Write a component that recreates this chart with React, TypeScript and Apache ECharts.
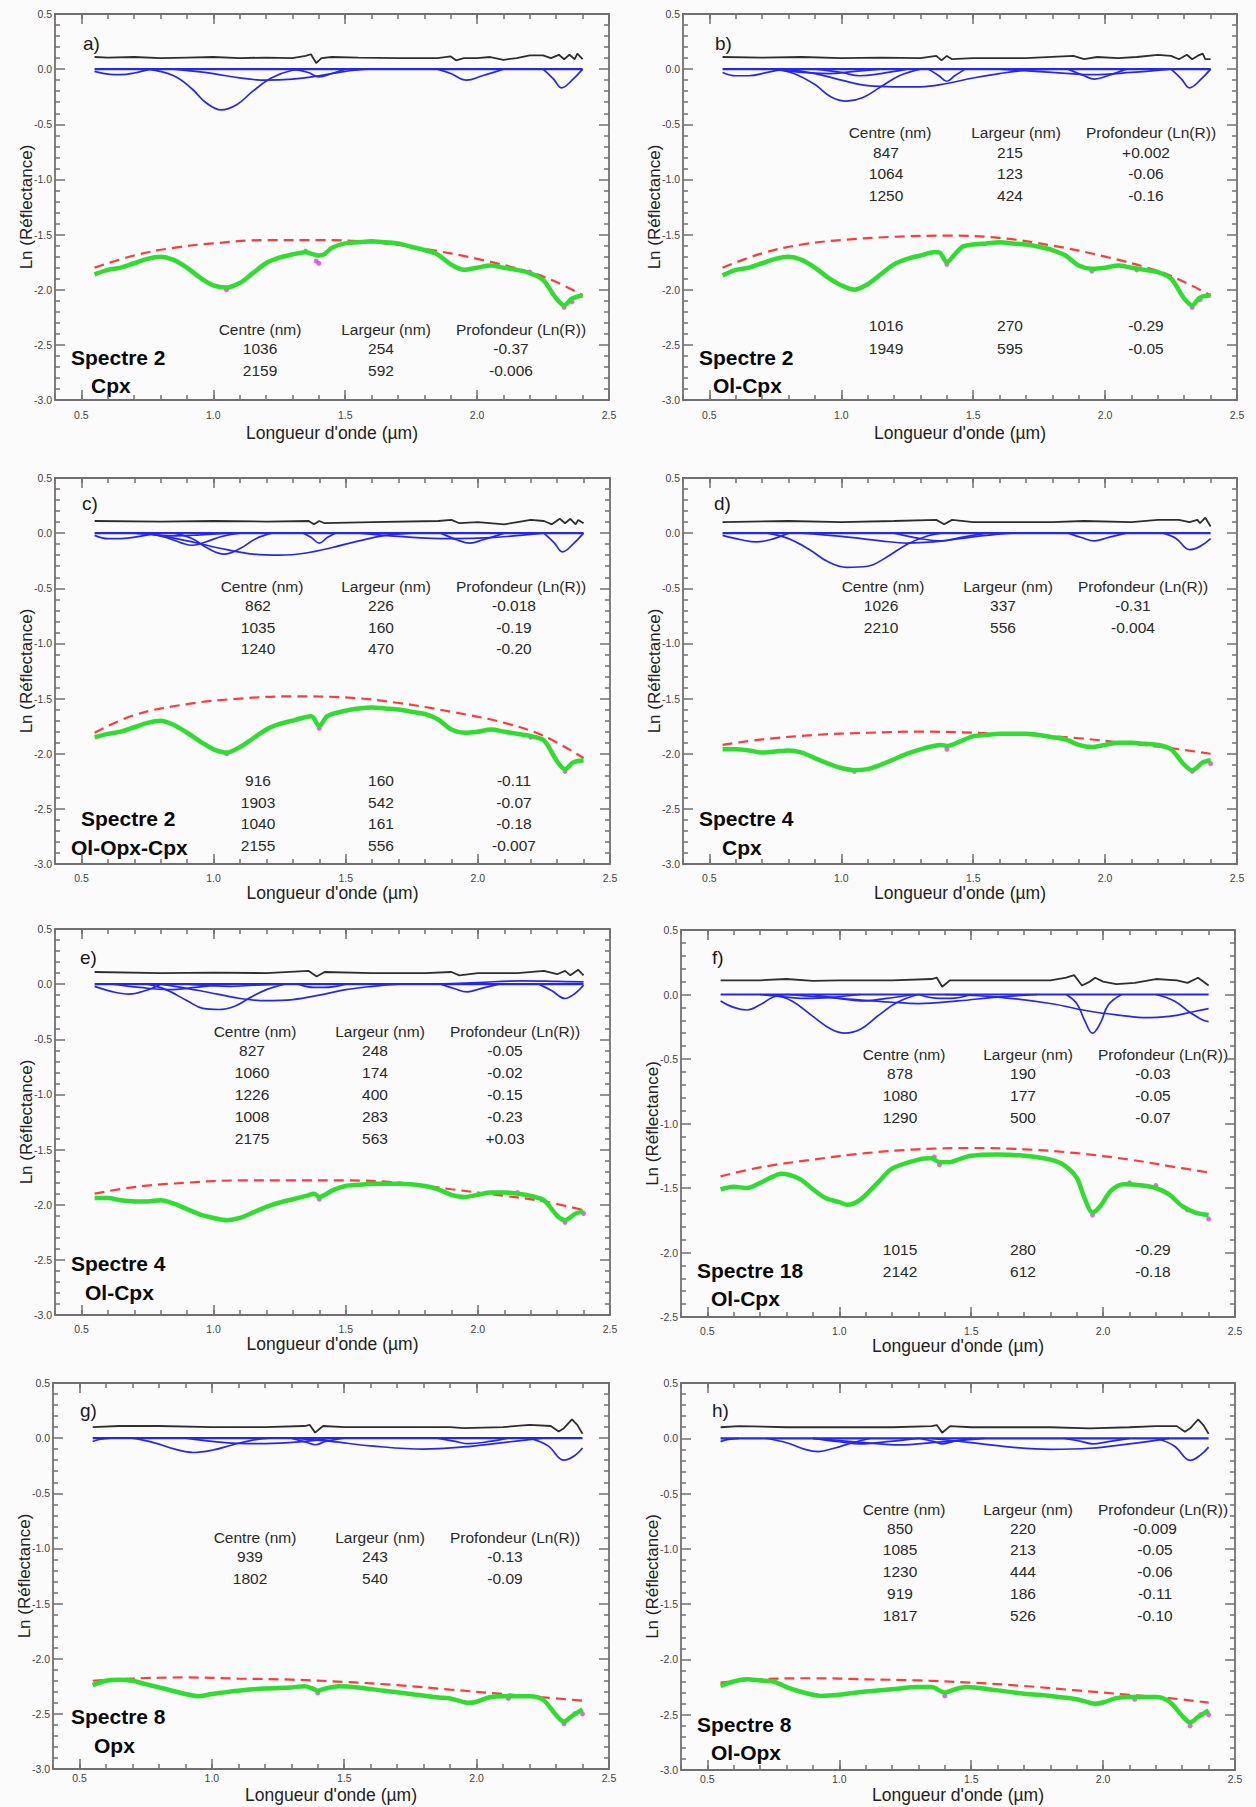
import React, { useEffect, useRef } from "react";
import * as echarts from "echarts";

type Pt = [number, number];

// ---------- axes ----------
const X_MIN = 0.4;
const X_MAX = 2.5;
const X_MAJOR = [0.5, 1.0, 1.5, 2.0, 2.5];
const X_TITLE = "Longueur d'onde (µm)";
const Y_TITLE = "Ln (Réflectance)";
const TABLE_HEAD = ["Centre (nm)", "Largeur (nm)", "Profondeur (Ln(R))"];

// ---------- panel a : Spectre 2 Cpx ----------
const blackA: Pt[] = [[0.55,0.11],[0.6,0.105],[0.7,0.11],[0.8,0.1],[0.9,0.105],[1.0,0.11],[1.1,0.1],[1.2,0.105],[1.3,0.1],[1.35,0.12],[1.37,0.135],[1.39,0.055],[1.41,0.1],[1.45,0.11],[1.55,0.105],[1.7,0.1],[1.85,0.1],[1.9,0.115],[1.92,0.08],[1.95,0.1],[2.0,0.1],[2.05,0.11],[2.1,0.085],[2.15,0.1],[2.2,0.125],[2.25,0.125],[2.28,0.1],[2.31,0.13],[2.33,0.09],[2.35,0.13],[2.37,0.09],[2.38,0.14],[2.4,0.09]];
const bandsA: Pt[][] = [
  [[0.55,-0.02],[0.6,-0.045],[0.65,-0.05],[0.7,-0.035],[0.76,0]],
  [[0.75,0],[0.85,-0.06],[0.92,-0.18],[0.97,-0.3],[1.03,-0.37],[1.09,-0.32],[1.15,-0.2],[1.22,-0.08],[1.3,-0.01],[1.35,0]],
  [[0.85,0],[1.0,-0.04],[1.1,-0.08],[1.2,-0.1],[1.3,-0.09],[1.4,-0.06],[1.5,-0.02],[1.58,0]],
  [[1.3,0],[1.36,-0.03],[1.4,-0.07],[1.45,-0.04],[1.5,0]],
  [[1.85,0],[1.9,-0.04],[1.96,-0.1],[2.02,-0.06],[2.1,0]],
  [[2.25,0],[2.29,-0.09],[2.32,-0.17],[2.36,-0.1],[2.4,0]],
];
const greenA: Pt[] = [[0.55,-1.86],[0.6,-1.82],[0.65,-1.8],[0.7,-1.76],[0.75,-1.72],[0.8,-1.7],[0.85,-1.73],[0.9,-1.8],[0.95,-1.89],[1.0,-1.96],[1.05,-1.98],[1.1,-1.94],[1.15,-1.85],[1.2,-1.76],[1.25,-1.71],[1.3,-1.68],[1.35,-1.66],[1.38,-1.68],[1.4,-1.69],[1.42,-1.68],[1.45,-1.62],[1.5,-1.58],[1.55,-1.57],[1.6,-1.56],[1.65,-1.57],[1.7,-1.58],[1.75,-1.61],[1.8,-1.64],[1.85,-1.68],[1.9,-1.77],[1.95,-1.82],[2.0,-1.8],[2.05,-1.78],[2.1,-1.8],[2.15,-1.82],[2.2,-1.85],[2.25,-1.91],[2.3,-2.08],[2.33,-2.14],[2.36,-2.08],[2.4,-2.05]];
const redA: Pt[] = [[0.55,-1.8],[0.7,-1.69],[0.85,-1.62],[1.0,-1.58],[1.2,-1.55],[1.4,-1.55],[1.6,-1.57],[1.8,-1.63],[2.0,-1.72],[2.2,-1.84],[2.3,-1.93],[2.4,-2.05]];
const magA: Pt[] = [[1.39,-1.74],[1.4,-1.76],[1.05,-2.0],[2.33,-2.16],[2.36,-2.11],[1.35,-1.65],[2.2,-1.84]];
const tableA1 = [["1036","254","-0.37"],["2159","592","-0.006"]];

// ---------- panel b : Spectre 2 Ol-Cpx ----------
const blackB: Pt[] = [[0.55,0.11],[0.7,0.105],[0.85,0.11],[1.0,0.1],[1.15,0.105],[1.3,0.1],[1.36,0.12],[1.38,0.08],[1.4,0.12],[1.42,0.09],[1.5,0.1],[1.7,0.1],[1.88,0.12],[1.92,0.09],[1.97,0.11],[2.05,0.1],[2.12,0.11],[2.2,0.13],[2.25,0.12],[2.28,0.09],[2.31,0.13],[2.33,0.09],[2.35,0.12],[2.37,0.14],[2.38,0.09],[2.4,0.09]];
const bandsB: Pt[][] = [
  [[0.55,-0.03],[0.6,-0.06],[0.65,-0.06],[0.72,-0.03],[0.78,0]],
  [[0.75,0],[0.82,-0.04],[0.9,-0.14],[0.96,-0.25],[1.02,-0.29],[1.08,-0.26],[1.15,-0.16],[1.22,-0.06],[1.3,0]],
  [[0.78,0],[0.9,-0.04],[1.0,-0.1],[1.1,-0.15],[1.2,-0.16],[1.3,-0.16],[1.4,-0.13],[1.5,-0.08],[1.6,-0.04],[1.7,-0.01],[1.8,0]],
  [[0.9,0],[1.0,-0.03],[1.07,-0.06],[1.15,-0.04],[1.25,0]],
  [[0.75,0],[0.85,-0.03],[0.95,-0.04],[1.05,-0.02],[1.15,0]],
  [[1.33,0],[1.37,-0.06],[1.4,-0.11],[1.43,-0.06],[1.47,0]],
  [[1.6,0],[1.8,-0.03],[1.95,-0.05],[2.1,-0.03],[2.25,0]],
  [[1.86,0],[1.92,-0.06],[1.96,-0.09],[2.01,-0.06],[2.08,0]],
  [[2.25,0],[2.29,-0.09],[2.32,-0.17],[2.36,-0.1],[2.4,0]],
];
const greenB: Pt[] = [[0.55,-1.87],[0.6,-1.82],[0.65,-1.8],[0.7,-1.76],[0.75,-1.72],[0.8,-1.7],[0.85,-1.73],[0.9,-1.8],[0.95,-1.89],[1.0,-1.96],[1.05,-2.0],[1.1,-1.95],[1.15,-1.86],[1.2,-1.77],[1.25,-1.72],[1.3,-1.69],[1.35,-1.66],[1.37,-1.66],[1.4,-1.75],[1.43,-1.68],[1.46,-1.61],[1.5,-1.59],[1.55,-1.58],[1.6,-1.57],[1.65,-1.58],[1.7,-1.59],[1.75,-1.61],[1.8,-1.64],[1.85,-1.69],[1.9,-1.78],[1.95,-1.81],[2.0,-1.8],[2.05,-1.78],[2.1,-1.8],[2.15,-1.82],[2.2,-1.84],[2.25,-1.9],[2.3,-2.08],[2.33,-2.14],[2.36,-2.07],[2.4,-2.05]];
const redB: Pt[] = [[0.55,-1.8],[0.7,-1.67],[0.85,-1.59],[1.0,-1.55],[1.2,-1.52],[1.4,-1.51],[1.6,-1.53],[1.8,-1.6],[2.0,-1.7],[2.2,-1.83],[2.3,-1.93],[2.4,-2.05]];
const magB: Pt[] = [[1.4,-1.77],[2.33,-2.16],[1.95,-1.83],[2.12,-1.82],[2.36,-2.09]];
const tableB1 = [["847","215","+0.002"],["1064","123","-0.06"],["1250","424","-0.16"]];
const tableB2 = [["1016","270","-0.29"],["1949","595","-0.05"]];

// ---------- panel c : Spectre 2 Ol-Opx-Cpx ----------
const blackC: Pt[] = [[0.55,0.11],[0.8,0.105],[1.0,0.11],[1.2,0.105],[1.36,0.11],[1.38,0.08],[1.4,0.11],[1.42,0.09],[1.6,0.1],[1.85,0.11],[1.9,0.12],[1.93,0.09],[2.0,0.1],[2.1,0.08],[2.15,0.1],[2.2,0.12],[2.25,0.11],[2.28,0.08],[2.31,0.13],[2.33,0.09],[2.35,0.13],[2.37,0.08],[2.38,0.12],[2.4,0.09]];
const bandsC: Pt[][] = [
  [[0.55,-0.02],[0.6,-0.05],[0.65,-0.05],[0.72,-0.03],[0.78,0]],
  [[0.7,0],[0.8,-0.02],[0.86,-0.025],[0.95,-0.015],[1.05,0]],
  [[0.75,0],[0.82,-0.04],[0.88,-0.09],[0.92,-0.11],[0.97,-0.08],[1.03,-0.03],[1.1,0]],
  [[0.85,0],[0.92,-0.05],[0.98,-0.14],[1.04,-0.19],[1.1,-0.14],[1.16,-0.05],[1.22,0]],
  [[0.75,0],[0.9,-0.07],[1.05,-0.15],[1.15,-0.19],[1.25,-0.2],[1.35,-0.18],[1.45,-0.13],[1.55,-0.07],[1.65,-0.02],[1.75,0]],
  [[1.34,0],[1.37,-0.04],[1.4,-0.09],[1.43,-0.04],[1.46,0]],
  [[1.55,0],[1.7,-0.03],[1.9,-0.05],[2.05,-0.04],[2.25,0]],
  [[1.86,0],[1.92,-0.06],[1.97,-0.09],[2.02,-0.06],[2.1,0]],
  [[2.25,0],[2.29,-0.09],[2.32,-0.17],[2.36,-0.1],[2.4,0]],
];
const greenC: Pt[] = [[0.55,-1.85],[0.6,-1.82],[0.65,-1.8],[0.7,-1.76],[0.75,-1.72],[0.8,-1.7],[0.85,-1.74],[0.9,-1.81],[0.95,-1.89],[1.0,-1.96],[1.05,-1.99],[1.1,-1.94],[1.15,-1.86],[1.2,-1.78],[1.25,-1.73],[1.3,-1.7],[1.37,-1.66],[1.4,-1.75],[1.43,-1.66],[1.5,-1.61],[1.55,-1.59],[1.6,-1.58],[1.65,-1.59],[1.7,-1.6],[1.75,-1.62],[1.8,-1.64],[1.85,-1.69],[1.9,-1.78],[1.95,-1.81],[2.0,-1.8],[2.05,-1.78],[2.1,-1.8],[2.15,-1.82],[2.2,-1.84],[2.25,-1.88],[2.3,-2.07],[2.33,-2.14],[2.36,-2.08],[2.4,-2.06]];
const redC: Pt[] = [[0.55,-1.81],[0.7,-1.65],[0.9,-1.55],[1.1,-1.5],[1.3,-1.48],[1.5,-1.49],[1.7,-1.54],[1.9,-1.62],[2.1,-1.72],[2.25,-1.84],[2.4,-2.04]];
const magC: Pt[] = [[1.4,-1.77],[2.33,-2.16],[2.2,-1.85],[1.05,-2.0]];
const tableC1 = [["862","226","-0.018"],["1035","160","-0.19"],["1240","470","-0.20"]];
const tableC2 = [["916","160","-0.11"],["1903","542","-0.07"],["1040","161","-0.18"],["2155","556","-0.007"]];

// ---------- panel d : Spectre 4 Cpx ----------
const blackD: Pt[] = [[0.55,0.1],[0.8,0.11],[1.0,0.1],[1.2,0.11],[1.36,0.12],[1.39,0.08],[1.42,0.12],[1.5,0.1],[1.8,0.1],[1.92,0.11],[2.1,0.1],[2.2,0.12],[2.28,0.12],[2.32,0.1],[2.35,0.12],[2.36,0.09],[2.38,0.14],[2.4,0.06]];
const bandsD: Pt[][] = [
  [[0.55,-0.02],[0.62,-0.06],[0.68,-0.08],[0.73,-0.06],[0.8,0]],
  [[0.72,0],[0.8,-0.05],[0.88,-0.15],[0.95,-0.26],[1.02,-0.31],[1.1,-0.3],[1.17,-0.22],[1.25,-0.1],[1.32,-0.03],[1.38,0]],
  [[0.85,0],[1.0,-0.03],[1.15,-0.07],[1.25,-0.09],[1.35,-0.08],[1.45,-0.05],[1.55,-0.02],[1.65,0]],
  [[1.2,0],[1.3,-0.05],[1.38,-0.07],[1.45,-0.04],[1.55,0]],
  [[1.86,0],[1.91,-0.04],[1.96,-0.07],[2.01,-0.04],[2.08,0]],
  [[2.22,0],[2.27,-0.05],[2.32,-0.15],[2.36,-0.12],[2.4,-0.05]],
];
const greenD: Pt[] = [[0.55,-1.96],[0.6,-1.96],[0.65,-1.97],[0.7,-1.99],[0.75,-1.98],[0.8,-1.97],[0.85,-1.99],[0.9,-2.04],[0.95,-2.09],[1.0,-2.13],[1.05,-2.15],[1.1,-2.14],[1.15,-2.1],[1.2,-2.05],[1.25,-2.0],[1.3,-1.96],[1.35,-1.93],[1.38,-1.92],[1.4,-1.93],[1.45,-1.89],[1.5,-1.84],[1.55,-1.83],[1.6,-1.82],[1.7,-1.82],[1.8,-1.85],[1.85,-1.87],[1.9,-1.92],[1.95,-1.94],[2.0,-1.92],[2.05,-1.9],[2.1,-1.9],[2.15,-1.91],[2.2,-1.92],[2.25,-1.96],[2.3,-2.1],[2.33,-2.15],[2.37,-2.08],[2.4,-2.06]];
const redD: Pt[] = [[0.55,-1.92],[0.7,-1.87],[0.9,-1.83],[1.1,-1.81],[1.3,-1.8],[1.5,-1.81],[1.7,-1.83],[1.9,-1.86],[2.1,-1.91],[2.25,-1.95],[2.4,-2.0]];
const magD: Pt[] = [[1.4,-1.96],[2.33,-2.16],[2.4,-2.09],[1.05,-2.16]];
const tableD1 = [["1026","337","-0.31"],["2210","556","-0.004"]];

// ---------- panel e : Spectre 4 Ol-Cpx ----------
const blackE: Pt[] = [[0.55,0.11],[0.8,0.1],[1.0,0.105],[1.2,0.1],[1.36,0.12],[1.39,0.07],[1.42,0.11],[1.6,0.1],[1.8,0.1],[1.9,0.11],[1.93,0.08],[2.0,0.1],[2.15,0.1],[2.25,0.12],[2.3,0.09],[2.33,0.12],[2.35,0.08],[2.38,0.13],[2.4,0.08]];
const bandsE: Pt[][] = [
  [[0.55,-0.02],[0.62,-0.07],[0.68,-0.09],[0.74,-0.06],[0.8,0]],
  [[0.62,0],[0.72,-0.03],[0.83,-0.05],[0.93,-0.03],[1.03,0]],
  [[0.75,0],[0.82,-0.05],[0.9,-0.15],[0.96,-0.22],[1.02,-0.23],[1.08,-0.2],[1.14,-0.12],[1.2,-0.05],[1.27,0]],
  [[0.8,0],[0.95,-0.06],[1.1,-0.13],[1.2,-0.15],[1.3,-0.14],[1.4,-0.1],[1.5,-0.05],[1.6,-0.02],[1.7,0]],
  [[0.9,0],[1.0,-0.015],[1.06,-0.02],[1.15,-0.01],[1.25,0]],
  [[1.32,0],[1.38,-0.03],[1.42,-0.03],[1.5,0]],
  [[1.86,0],[1.91,-0.04],[1.96,-0.07],[2.01,-0.04],[2.08,0]],
  [[1.85,0],[2.0,0.015],[2.17,0.03],[2.3,0.025],[2.4,0.02]],
  [[2.23,0],[2.28,-0.06],[2.33,-0.13],[2.37,-0.08],[2.4,-0.01]],
];
const greenE: Pt[] = [[0.55,-1.94],[0.6,-1.94],[0.65,-1.96],[0.7,-1.97],[0.75,-1.97],[0.8,-1.96],[0.85,-1.99],[0.9,-2.04],[0.95,-2.09],[1.0,-2.12],[1.05,-2.14],[1.1,-2.12],[1.15,-2.07],[1.2,-2.02],[1.25,-1.98],[1.3,-1.95],[1.35,-1.92],[1.38,-1.9],[1.4,-1.93],[1.45,-1.87],[1.5,-1.83],[1.55,-1.82],[1.6,-1.81],[1.7,-1.81],[1.8,-1.83],[1.85,-1.86],[1.9,-1.91],[1.95,-1.93],[2.0,-1.91],[2.05,-1.89],[2.1,-1.89],[2.15,-1.9],[2.2,-1.92],[2.25,-1.96],[2.3,-2.1],[2.33,-2.14],[2.37,-2.08],[2.4,-2.06]];
const redE: Pt[] = [[0.55,-1.9],[0.7,-1.84],[0.9,-1.8],[1.1,-1.78],[1.3,-1.78],[1.5,-1.78],[1.7,-1.8],[1.9,-1.86],[2.1,-1.92],[2.25,-1.97],[2.4,-2.05]];
const magE: Pt[] = [[1.4,-1.95],[2.33,-2.16],[2.4,-2.08],[2.15,-1.89]];
const tableE1 = [["827","248","-0.05"],["1060","174","-0.02"],["1226","400","-0.15"],["1008","283","-0.23"],["2175","563","+0.03"]];

// ---------- panel f : Spectre 18 Ol-Cpx ----------
const blackF: Pt[] = [[0.55,0.11],[0.7,0.11],[0.8,0.12],[0.9,0.105],[1.0,0.11],[1.2,0.11],[1.35,0.12],[1.37,0.13],[1.39,0.06],[1.42,0.11],[1.6,0.11],[1.8,0.11],[1.86,0.13],[1.89,0.15],[1.92,0.07],[1.95,0.1],[1.97,0.13],[2.0,0.1],[2.05,0.08],[2.12,0.09],[2.2,0.12],[2.28,0.11],[2.32,0.09],[2.36,0.13],[2.4,0.07]];
const bandsF: Pt[][] = [
  [[0.55,-0.05],[0.6,-0.1],[0.65,-0.12],[0.7,-0.08],[0.75,-0.02],[0.8,0]],
  [[0.7,0],[0.8,-0.02],[0.88,-0.03],[0.98,-0.02],[1.08,0]],
  [[0.75,0],[0.82,-0.05],[0.9,-0.17],[0.97,-0.27],[1.02,-0.3],[1.08,-0.27],[1.15,-0.16],[1.22,-0.06],[1.3,0]],
  [[0.9,0],[1.0,-0.03],[1.08,-0.05],[1.18,-0.03],[1.28,0]],
  [[0.8,0],[1.0,-0.03],[1.2,-0.06],[1.3,-0.07],[1.45,-0.05],[1.6,-0.02],[1.75,0]],
  [[1.3,0],[1.38,-0.03],[1.42,-0.03],[1.5,0]],
  [[1.86,0],[1.9,-0.07],[1.93,-0.2],[1.96,-0.3],[1.99,-0.22],[2.02,-0.08],[2.07,0]],
  [[1.4,0],[1.6,-0.02],[1.8,-0.07],[1.95,-0.13],[2.1,-0.17],[2.15,-0.18],[2.25,-0.17],[2.35,-0.13],[2.4,-0.11]],
  [[2.2,0],[2.27,-0.05],[2.33,-0.14],[2.38,-0.2],[2.4,-0.21]],
];
const greenF: Pt[] = [[0.55,-1.51],[0.6,-1.49],[0.65,-1.5],[0.7,-1.46],[0.75,-1.41],[0.78,-1.39],[0.85,-1.43],[0.9,-1.51],[0.95,-1.58],[1.0,-1.61],[1.03,-1.63],[1.08,-1.59],[1.15,-1.45],[1.2,-1.35],[1.3,-1.28],[1.35,-1.27],[1.38,-1.3],[1.42,-1.3],[1.45,-1.28],[1.5,-1.25],[1.6,-1.24],[1.7,-1.25],[1.8,-1.28],[1.85,-1.32],[1.9,-1.42],[1.93,-1.58],[1.96,-1.69],[1.99,-1.64],[2.03,-1.52],[2.08,-1.47],[2.15,-1.48],[2.2,-1.5],[2.25,-1.55],[2.3,-1.64],[2.35,-1.69],[2.4,-1.71]];
const redF: Pt[] = [[0.55,-1.41],[0.7,-1.34],[0.9,-1.28],[1.1,-1.23],[1.3,-1.2],[1.5,-1.19],[1.7,-1.2],[1.9,-1.23],[2.1,-1.28],[2.25,-1.33],[2.4,-1.38]];
const magF: Pt[] = [[1.38,-1.32],[1.36,-1.26],[1.96,-1.71],[2.1,-1.46],[2.2,-1.48],[2.4,-1.74],[2.32,-1.67]];
const tableF1 = [["878","190","-0.03"],["1080","177","-0.05"],["1290","500","-0.07"]];
const tableF2 = [["1015","280","-0.29"],["2142","612","-0.18"]];

// ---------- panel g : Spectre 8 Opx ----------
const blackG: Pt[] = [[0.55,0.1],[0.65,0.11],[0.8,0.11],[1.0,0.1],[1.2,0.1],[1.35,0.11],[1.37,0.12],[1.39,0.05],[1.42,0.11],[1.5,0.1],[1.8,0.1],[1.9,0.1],[1.95,0.09],[2.1,0.1],[2.2,0.12],[2.28,0.11],[2.31,0.06],[2.33,0.09],[2.36,0.17],[2.38,0.12],[2.4,0.04]];
const bandsG: Pt[][] = [
  [[0.55,-0.03],[0.58,-0.01],[0.62,0]],
  [[0.7,0],[0.78,-0.04],[0.86,-0.1],[0.93,-0.13],[1.0,-0.11],[1.08,-0.06],[1.15,-0.02],[1.22,0]],
  [[0.9,0],[1.05,-0.04],[1.2,-0.05],[1.35,-0.03],[1.45,0]],
  [[1.3,0],[1.36,-0.04],[1.39,-0.06],[1.43,-0.03],[1.5,0]],
  [[1.3,0],[1.45,-0.03],[1.6,-0.07],[1.8,-0.1],[1.95,-0.08],[2.1,-0.04],[2.25,0]],
  [[1.85,0],[1.92,-0.03],[1.97,-0.05],[2.05,-0.03],[2.12,0]],
  [[2.2,0],[2.27,-0.07],[2.33,-0.2],[2.37,-0.16],[2.4,-0.09]],
];
const greenG: Pt[] = [[0.55,-2.24],[0.6,-2.2],[0.65,-2.19],[0.7,-2.2],[0.75,-2.23],[0.8,-2.26],[0.85,-2.29],[0.9,-2.32],[0.95,-2.34],[1.0,-2.32],[1.1,-2.29],[1.2,-2.27],[1.3,-2.26],[1.35,-2.25],[1.38,-2.27],[1.4,-2.29],[1.43,-2.27],[1.48,-2.25],[1.55,-2.26],[1.65,-2.29],[1.75,-2.32],[1.85,-2.35],[1.9,-2.36],[1.97,-2.4],[2.0,-2.39],[2.05,-2.35],[2.1,-2.34],[2.2,-2.34],[2.25,-2.37],[2.3,-2.51],[2.33,-2.57],[2.36,-2.52],[2.4,-2.46]];
const redG: Pt[] = [[0.55,-2.2],[0.7,-2.18],[0.9,-2.17],[1.1,-2.18],[1.3,-2.19],[1.5,-2.21],[1.7,-2.24],[1.9,-2.28],[2.1,-2.32],[2.25,-2.35],[2.4,-2.38]];
const magG: Pt[] = [[1.4,-2.31],[2.33,-2.59],[2.37,-2.5],[2.4,-2.5],[2.12,-2.36]];
const tableG1 = [["939","243","-0.13"],["1802","540","-0.09"]];

// ---------- panel h : Spectre 8 Ol-Opx ----------
const blackH: Pt[] = [[0.55,0.1],[0.62,0.11],[0.8,0.1],[1.0,0.1],[1.2,0.1],[1.35,0.11],[1.37,0.12],[1.39,0.05],[1.42,0.11],[1.5,0.1],[1.8,0.1],[1.95,0.09],[2.1,0.1],[2.2,0.11],[2.28,0.11],[2.31,0.06],[2.33,0.09],[2.36,0.17],[2.38,0.12],[2.4,0.04]];
const bandsH: Pt[][] = [
  [[0.55,-0.03],[0.58,-0.01],[0.62,0]],
  [[0.72,0],[0.8,-0.04],[0.87,-0.1],[0.92,-0.12],[0.98,-0.09],[1.05,-0.04],[1.12,0]],
  [[0.9,0],[1.0,-0.03],[1.08,-0.05],[1.18,-0.03],[1.3,0]],
  [[0.9,0],[1.1,-0.04],[1.23,-0.06],[1.35,-0.04],[1.55,0]],
  [[1.3,0],[1.36,-0.03],[1.39,-0.05],[1.43,-0.03],[1.5,0]],
  [[1.35,0],[1.5,-0.04],[1.65,-0.08],[1.8,-0.1],[1.95,-0.09],[2.1,-0.05],[2.25,0]],
  [[1.85,0],[1.92,-0.03],[1.96,-0.05],[2.02,-0.03],[2.1,0]],
  [[2.2,0],[2.27,-0.07],[2.33,-0.2],[2.37,-0.15],[2.4,-0.08]],
];
const greenH: Pt[] = [[0.55,-2.24],[0.6,-2.2],[0.65,-2.18],[0.7,-2.19],[0.75,-2.2],[0.8,-2.25],[0.85,-2.29],[0.9,-2.32],[0.93,-2.33],[1.0,-2.32],[1.1,-2.29],[1.2,-2.27],[1.3,-2.25],[1.35,-2.25],[1.4,-2.3],[1.44,-2.27],[1.48,-2.25],[1.6,-2.28],[1.7,-2.31],[1.8,-2.33],[1.9,-2.36],[1.97,-2.4],[2.0,-2.39],[2.05,-2.35],[2.1,-2.34],[2.2,-2.34],[2.25,-2.38],[2.3,-2.51],[2.33,-2.57],[2.36,-2.52],[2.4,-2.46]];
const redH: Pt[] = [[0.55,-2.21],[0.7,-2.18],[0.9,-2.17],[1.1,-2.18],[1.3,-2.19],[1.5,-2.21],[1.7,-2.24],[1.9,-2.28],[2.1,-2.32],[2.25,-2.35],[2.4,-2.39]];
const magH: Pt[] = [[1.4,-2.33],[2.33,-2.6],[2.37,-2.5],[2.4,-2.5],[2.12,-2.36]];
const tableH1 = [["850","220","-0.009"],["1085","213","-0.05"],["1230","444","-0.06"],["919","186","-0.11"],["1817","526","-0.10"]];

// ---------- panel assembly ----------
const PANELS = [
  { letter: "a)", yMin: -3, black: blackA, bands: bandsA, green: greenA, red: redA, mag: magA, tables: [tableA1], names: ["Spectre 2", "Cpx"] },
  { letter: "b)", yMin: -3, black: blackB, bands: bandsB, green: greenB, red: redB, mag: magB, tables: [tableB1, tableB2], names: ["Spectre 2", "Ol-Cpx"] },
  { letter: "c)", yMin: -3, black: blackC, bands: bandsC, green: greenC, red: redC, mag: magC, tables: [tableC1, tableC2], names: ["Spectre 2", "Ol-Opx-Cpx"] },
  { letter: "d)", yMin: -3, black: blackD, bands: bandsD, green: greenD, red: redD, mag: magD, tables: [tableD1], names: ["Spectre 4", "Cpx"] },
  { letter: "e)", yMin: -3, black: blackE, bands: bandsE, green: greenE, red: redE, mag: magE, tables: [tableE1], names: ["Spectre 4", "Ol-Cpx"] },
  { letter: "f)", yMin: -2.5, black: blackF, bands: bandsF, green: greenF, red: redF, mag: magF, tables: [tableF1, tableF2], names: ["Spectre 18", "Ol-Cpx"] },
  { letter: "g)", yMin: -3, black: blackG, bands: bandsG, green: greenG, red: redG, mag: magG, tables: [tableG1], names: ["Spectre 8", "Opx"] },
  { letter: "h)", yMin: -3, black: blackH, bands: bandsH, green: greenH, red: redH, mag: magH, tables: [tableH1], names: ["Spectre 8", "Ol-Opx"] },
];

// ---------- layout (pixels) ----------
const LAYOUT = [
  { grid: [55, 14, 554, 386], xGap: 24, lblM: 9, letter: [83, 43], n1: [71, 357], n2: [91, 385], headY: [329], headX: [260, 386, 521], valX: [260, 381, 511], rowsY: [[348, 370]] },
  { grid: [683, 14, 554, 386], xGap: 24, lblM: 9, letter: [715, 43], n1: [699, 357], n2: [713, 385], headY: [132], headX: [890, 1016, 1151], valX: [886, 1010, 1146], rowsY: [[152, 173, 195], [325, 348]] },
  { grid: [55, 478, 555, 386], xGap: 20, lblM: 8, letter: [82, 503], n1: [81, 818], n2: [71, 847], headY: [586], headX: [262, 386, 521], valX: [258, 381, 514], rowsY: [[605, 627, 648], [780, 802, 823, 845]] },
  { grid: [683, 478, 554, 386], xGap: 20, lblM: 8, letter: [714, 503], n1: [699, 818], n2: [722, 847], headY: [586], headX: [883, 1008, 1143], valX: [881, 1003, 1133], rowsY: [[605, 627]] },
  { grid: [55, 929, 555, 386], xGap: 20, lblM: 8, letter: [80, 957], n1: [71, 1263], n2: [85, 1292], headY: [1031], headX: [255, 380, 515], valX: [252, 375, 505], rowsY: [[1050, 1072, 1094, 1116, 1138]] },
  { grid: [681, 930, 554, 387], xGap: 20, lblM: 8, letter: [712, 957], n1: [697, 1270], n2: [711, 1298], headY: [1054], headX: [904, 1028, 1163], valX: [900, 1023, 1153], rowsY: [[1073, 1095, 1117], [1249, 1271]] },
  { grid: [53, 1383, 556, 386], xGap: 17, lblM: 3, letter: [80, 1410], n1: [71, 1716], n2: [94, 1745], headY: [1537], headX: [255, 380, 515], valX: [250, 375, 505], rowsY: [[1556, 1578]] },
  { grid: [681, 1383, 554, 387], xGap: 16, lblM: 3, letter: [712, 1410], n1: [697, 1724], n2: [711, 1752], headY: [1509], headX: [904, 1028, 1163], valX: [900, 1023, 1155], rowsY: [[1528, 1549, 1571, 1593, 1615]] },
];

const FONT = "'Liberation Sans', Arial, sans-serif";
const FRAME = "#707070";
const BLUE = "#2626f2";
const GREEN = "#2fdc2f";
const RED = "#ff3a3a";
const MAGENTA = "#e040e0";
const BLACK = "#2e2e2e";

function buildOption() {
  const grid: any[] = [];
  const xAxis: any[] = [];
  const yAxis: any[] = [];
  const series: any[] = [];
  const graphic: any[] = [];

  PANELS.forEach((p, i) => {
    const L = LAYOUT[i];
    grid.push({ left: L.grid[0], top: L.grid[1], width: L.grid[2], height: L.grid[3], outerBoundsMode: "none", containLabel: false });

    const lineSty = { color: FRAME, width: 1.8 };
    const tickSty = { color: FRAME, width: 1.5 };
    const xBase = { gridIndex: i, type: "value", min: X_MIN, max: X_MAX, splitLine: { show: false } };
    xAxis.push({
      ...xBase, position: "bottom", interval: 0.1,
      axisLine: { show: true, onZero: false, lineStyle: lineSty },
      axisTick: { show: true, inside: true, length: 5, lineStyle: tickSty },
      axisLabel: { show: true, customValues: X_MAJOR, formatter: (v: number) => v.toFixed(1), fontSize: 10.5, color: "#444", margin: L.lblM, fontFamily: FONT },
      name: X_TITLE, nameLocation: "middle", nameGap: L.xGap, nameMoveOverlap: false,
      nameTextStyle: { fontSize: 17.5, lineHeight: 18, color: "#222", fontFamily: FONT },
    });
    xAxis.push({
      ...xBase, position: "bottom",
      axisLine: { show: false, onZero: false },
      axisTick: { show: true, inside: true, length: 10, customValues: X_MAJOR, lineStyle: tickSty },
      axisLabel: { show: false },
    });
    xAxis.push({
      ...xBase, position: "top", interval: 0.1,
      axisLine: { show: true, onZero: false, lineStyle: lineSty },
      axisTick: { show: true, inside: true, length: 5, lineStyle: tickSty },
      axisLabel: { show: false },
    });
    xAxis.push({
      ...xBase, position: "top",
      axisLine: { show: false, onZero: false },
      axisTick: { show: true, inside: true, length: 10, customValues: X_MAJOR, lineStyle: tickSty },
      axisLabel: { show: false },
    });

    const yBase = {
      gridIndex: i, type: "value", min: p.yMin, max: 0.5, interval: 0.5,
      splitLine: { show: false },
      axisLine: { show: true, onZero: false, lineStyle: lineSty },
      axisTick: { show: true, inside: true, length: 10, lineStyle: tickSty },
      minorTick: { show: true, splitNumber: 5, length: 5, lineStyle: tickSty },
    };
    yAxis.push({
      ...yBase, position: "left",
      axisLabel: { show: true, formatter: (v: number) => v.toFixed(1), fontSize: 10.5, color: "#444", margin: 3, fontFamily: FONT },
      name: Y_TITLE, nameLocation: "middle", nameGap: 20, nameMoveOverlap: false,
      nameTextStyle: { fontSize: 17, color: "#222", fontFamily: FONT },
    });
    yAxis.push({ ...yBase, position: "right", axisLabel: { show: false } });

    const xi = 4 * i;
    const yi = 2 * i;
    const common = { type: "line", xAxisIndex: xi, yAxisIndex: yi, showSymbol: false, silent: true };

    series.push({ ...common, data: [[0.55, 0], [2.4, 0]], lineStyle: { color: BLUE, width: 2.2 } });
    p.bands.forEach((b) => {
      series.push({ ...common, data: b, smooth: 0.4, lineStyle: { color: BLUE, width: 1.7 } });
    });
    series.push({ ...common, data: p.black, lineStyle: { color: BLACK, width: 1.8 } });
    series.push({ ...common, data: p.red, smooth: 0.4, lineStyle: { color: RED, width: 2.2, type: [10, 6] } });
    series.push({ type: "scatter", xAxisIndex: xi, yAxisIndex: yi, silent: true, data: p.mag, symbolSize: 5, itemStyle: { color: MAGENTA } });
    series.push({ ...common, data: p.green, smooth: 0.3, lineStyle: { color: GREEN, width: 4.5 } });

    const tStyle = { fontSize: 15.5, lineHeight: 16, fontFamily: FONT, fill: "#2a2a2a", align: "center", verticalAlign: "middle" };
    graphic.push({ type: "text", x: L.letter[0], y: L.letter[1], style: { text: p.letter, fontSize: 19, fontFamily: FONT, fill: "#1a1a1a", align: "left", verticalAlign: "middle" } });
    graphic.push({ type: "text", x: L.n1[0], y: L.n1[1], style: { text: p.names[0], fontSize: 21, lineHeight: 22, fontWeight: "bold", fontFamily: FONT, fill: "#0a0a0a", align: "left", verticalAlign: "middle" } });
    graphic.push({ type: "text", x: L.n2[0], y: L.n2[1], style: { text: p.names[1], fontSize: 21, lineHeight: 22, fontWeight: "bold", fontFamily: FONT, fill: "#0a0a0a", align: "left", verticalAlign: "middle" } });
    TABLE_HEAD.forEach((h, c) => {
      graphic.push({ type: "text", x: L.headX[c], y: L.headY[0], style: { ...tStyle, text: h } });
    });
    p.tables.forEach((tbl, t) => {
      tbl.forEach((row, r) => {
        row.forEach((cell, c) => {
          graphic.push({ type: "text", x: L.valX[c], y: L.rowsY[t][r], style: { ...tStyle, text: cell } });
        });
      });
    });
  });

  return {
    animation: false,
    backgroundColor: "#fbfbfb",
    textStyle: { fontFamily: FONT },
    grid, xAxis, yAxis, series, graphic,
  };
}

export default function App() {
  const ref = useRef<HTMLDivElement>(null);
  useEffect(() => {
    if (!ref.current) return;
    const chart = echarts.init(ref.current, undefined, { renderer: "svg" });
    chart.setOption(buildOption() as any);
    return () => chart.dispose();
  }, []);
  return <div ref={ref} style={{ position: "absolute", left: 0, top: 0, width: 1256, height: 1807 }} />;
}
